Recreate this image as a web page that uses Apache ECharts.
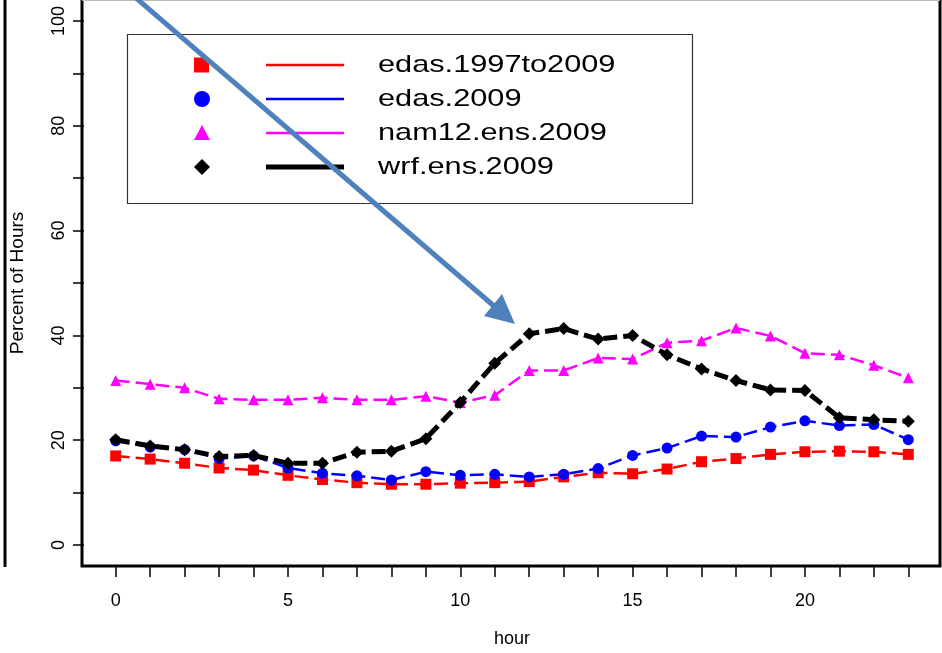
<!DOCTYPE html>
<html>
<head>
<meta charset="utf-8">
<title>Percent of Hours by hour</title>
<script src="https://cdn.jsdelivr.net/npm/echarts@6/dist/echarts.min.js"></script>
<style>
	html, body { margin: 0; padding: 0; background: #fff; }
	#chart { width: 942px; height: 653px; }
</style>
</head>
<body>
<div id="chart"></div>
<script>
	var hours = [0, 1, 2, 3, 4, 5, 6, 7, 8, 9, 10, 11, 12, 13, 14, 15, 16, 17, 18, 19, 20, 21, 22, 23];
	var seriesNames = ['edas.1997to2009', 'edas.2009', 'nam12.ens.2009', 'wrf.ens.2009'];
	var edas1997to2009 = [17.0, 16.4, 15.6, 14.7, 14.3, 13.3, 12.5, 11.9, 11.6, 11.6, 11.8, 11.9, 12.1, 13.0, 13.8, 13.6, 14.5, 15.9, 16.5, 17.3, 17.8, 17.9, 17.8, 17.3];
	var edas2009 = [19.9, 18.7, 18.2, 16.5, 17.0, 14.7, 13.7, 13.2, 12.4, 14.0, 13.3, 13.5, 13.0, 13.5, 14.6, 17.1, 18.5, 20.8, 20.6, 22.5, 23.7, 22.8, 23.0, 20.1];
	var nam12ens2009 = [31.4, 30.7, 30.0, 27.9, 27.7, 27.7, 28.1, 27.7, 27.7, 28.4, 27.2, 28.6, 33.3, 33.3, 35.7, 35.5, 38.6, 39.0, 41.4, 39.9, 36.6, 36.3, 34.3, 31.9];
	var wrfens2009 = [20.1, 18.9, 18.2, 16.9, 17.1, 15.6, 15.6, 17.7, 17.9, 20.3, 27.2, 34.7, 40.3, 41.3, 39.3, 40.0, 36.3, 33.6, 31.4, 29.6, 29.5, 24.3, 23.9, 23.6];
	var xTicks = hours;
	var xLabelTicks = [0, 5, 10, 15, 20];
	var yTicks = [0, 10, 20, 30, 40, 50, 60, 70, 80, 90, 100];
	var yLabelTicks = [0, 20, 40, 60, 80, 100];

	var FONT = '"Liberation Sans", Arial, sans-serif';
	var colors = ['#ff0000', '#0000ff', '#ff00ff', '#000000'];
	var symbols = ['rect', 'circle', 'triangle', 'diamond'];
	var lineWidths = [2.5, 2.5, 2.5, 5];
	var allValues = [edas1997to2009, edas2009, nam12ens2009, wrfens2009];

	function pairs(values) {
		return hours.map(function (h, i) { return [h, values[i]]; });
	}

	var series = allValues.map(function (values, i) {
		return {
			name: seriesNames[i],
			type: 'line',
			data: pairs(values),
			symbol: symbols[i],
			symbolSize: i === 3 ? 13 : 11,
			showAllSymbol: true,
			lineStyle: { color: colors[i], width: lineWidths[i], type: [14, 6] },
			itemStyle: { color: colors[i] },
			z: 2 + i,
			animation: false
		};
	});

	// legend box drawn by hand: marker, line, then text
	var legendGraphic = [{
		type: 'rect',
		shape: { x: 127.5, y: 34.5, width: 565, height: 169 },
		style: { fill: '#fff', stroke: '#333', lineWidth: 1.2 },
		z: 10
	}];
	var rowY = [65, 99, 133, 167];
	seriesNames.forEach(function (name, i) {
		var y = rowY[i];
		var marker;
		if (i === 0) {
			marker = { type: 'rect', shape: { x: 194, y: y - 7.5, width: 15, height: 15 } };
		} else if (i === 1) {
			marker = { type: 'circle', shape: { cx: 202, cy: y, r: 8 } };
		} else if (i === 2) {
			marker = { type: 'polygon', shape: { points: [[202, y - 8], [194, y + 7], [210, y + 7]] } };
		} else {
			marker = { type: 'polygon', shape: { points: [[202, y - 8], [210, y], [202, y + 8], [194, y]] } };
		}
		marker.style = { fill: colors[i] };
		marker.z = 11;
		legendGraphic.push(marker);
		legendGraphic.push({
			type: 'line',
			shape: { x1: 266, y1: y, x2: 344, y2: y },
			style: { stroke: colors[i], lineWidth: i === 3 ? 5 : 2.5 },
			z: 11
		});
		legendGraphic.push({
			type: 'text',
			x: 378,
			y: y,
			scaleX: 1.28,
			style: { text: name, font: '24px ' + FONT, fill: '#000', textVerticalAlign: 'middle', textAlign: 'left' },
			z: 11
		});
	});

	var frameGraphic = [
		{ type: 'polyline', shape: { points: [[82, 0], [82, 566], [940, 566], [940, 0]] }, style: { stroke: '#000', lineWidth: 3, fill: null }, z: 1 },
		{ type: 'line', shape: { x1: 82, y1: 0.5, x2: 940, y2: 0.5 }, style: { stroke: '#bbb', lineWidth: 1 }, z: 1 },
		{ type: 'line', shape: { x1: 5, y1: 0, x2: 5, y2: 567 }, style: { stroke: '#000', lineWidth: 3 }, z: 1 }
	];

	var arrowGraphic = [
		{ type: 'line', shape: { x1: 136, y1: -2, x2: 494, y2: 306 }, style: { stroke: '#4f81bd', lineWidth: 5 }, z: 20 },
		{ type: 'polygon', shape: { points: [[484, 316], [502, 294], [515, 324]] }, style: { fill: '#4f81bd' }, z: 20 }
	];

	var option = {
		backgroundColor: '#fff',
		animation: false,
		grid: { left: 82, right: 2, top: -2, bottom: 87, containLabel: false },
		xAxis: {
			type: 'value',
			min: -0.92,
			max: 23.92,
			name: 'hour',
			nameLocation: 'middle',
			nameGap: 64,
			nameTextStyle: { color: '#000', fontSize: 18, fontFamily: FONT },
			axisLine: { show: false, onZero: false },
			axisTick: { show: true, length: 11, customValues: xTicks, lineStyle: { color: '#000', width: 1.5 } },
			axisLabel: {
				margin: 26,
				color: '#000',
				fontSize: 18,
				fontFamily: FONT,
				customValues: xLabelTicks
			},
			splitLine: { show: false }
		},
		yAxis: {
			type: 'value',
			min: -4,
			max: 104,
			name: 'Percent of Hours',
			nameLocation: 'middle',
			nameGap: 57,
			nameTextStyle: { color: '#000', fontSize: 19, fontFamily: FONT },
			axisLine: { show: false, onZero: false },
			axisTick: { show: true, length: 11, customValues: yTicks, lineStyle: { color: '#000', width: 1.5 } },
			axisLabel: {
				rotate: 90,
				margin: 16,
				color: '#000',
				fontSize: 18,
				fontFamily: FONT,
				customValues: yLabelTicks
			},
			splitLine: { show: false }
		},
		series: series,
		graphic: frameGraphic.concat(legendGraphic, arrowGraphic)
	};

	var chart = echarts.init(document.getElementById('chart'), null, { renderer: 'canvas' });
	chart.setOption(option);
</script>
</body>
</html>
